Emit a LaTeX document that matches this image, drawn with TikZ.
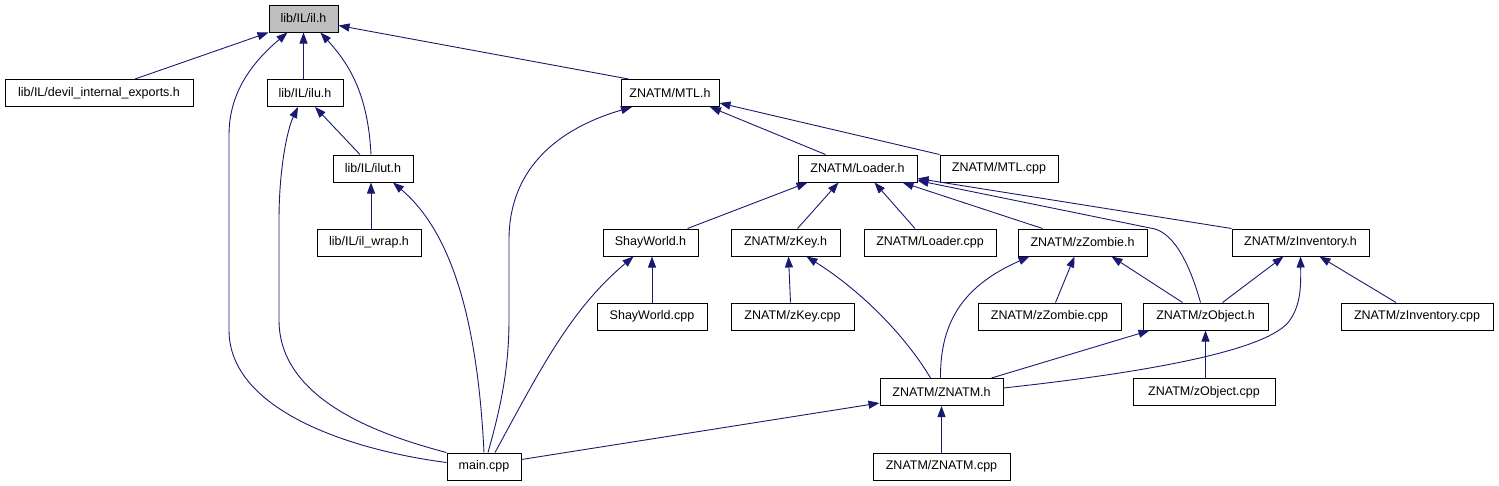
\documentclass[tikz,border=0pt]{standalone}
\usepackage{fontspec}
\setmainfont{Liberation Sans}
\usetikzlibrary{arrows.meta, positioning, calc}
\definecolor{edge}{RGB}{25, 25, 112}
\definecolor{focus}{RGB}{191, 191, 191}

\begin{document}
\begin{tikzpicture}[x=1pt, y=-1pt,
    file/.style={draw=black, line width=1pt, fill=white, inner sep=0pt, minimum height=27pt, font=\fontsize{12.5}{14}\selectfont},
    dep/.style={->, draw=edge, line width=0.9pt},
    >={Triangle[length=11pt, width=8pt]}]
                    \useasboundingbox (0,0) rectangle (1499,485);
                    % rows of the include graph
                    \node[file, fill=focus, minimum width=69pt] (il) at (303.5,18.5) {lib/IL/il.h};
                    \node[file, minimum width=188pt] (devil) at (99,93) {lib/IL/devil\_internal\_exports.h};
                    \node[file, minimum width=76pt] (ilu) at (305,93) {lib/IL/ilu.h};
                    \node[file, minimum width=98pt] (mtl) at (670,93) {ZNATM/MTL.h};
                    \node[file, minimum width=80pt] (ilut) at (373,168.5) {lib/IL/ilut.h};
                    \node[file, minimum width=119pt] (loader) at (857.5,168.5) {ZNATM/Loader.h};
                    \node[file, minimum width=118pt] (mtlcpp) at (999,168.5) {ZNATM/MTL.cpp};
                    \node[file, minimum width=104pt] (ilwrap) at (369,242.5) {lib/IL/il\_wrap.h};
                    \node[file, minimum width=95pt] (shay) at (650.5,242.5) {ShayWorld.h};
                    \node[file, minimum width=109pt] (zkey) at (785.5,242.5) {ZNATM/zKey.h};
                    \node[file, minimum width=132pt] (loadercpp) at (930,242.5) {ZNATM/Loader.cpp};
                    \node[file, minimum width=129pt] (zombie) at (1082.5,242.5) {ZNATM/zZombie.h};
                    \node[file, minimum width=137pt] (inv) at (1300.5,242.5) {ZNATM/zInventory.h};
                    \node[file, minimum width=110pt] (shaycpp) at (652,316.5) {ShayWorld.cpp};
                    \node[file, minimum width=123pt] (zkeycpp) at (792.5,316.5) {ZNATM/zKey.cpp};
                    \node[file, minimum width=143pt] (zombiecpp) at (1049.5,316.5) {ZNATM/zZombie.cpp};
                    \node[file, minimum width=125pt] (zobj) at (1205.5,316.5) {ZNATM/zObject.h};
                    \node[file, minimum width=152pt] (invcpp) at (1417,316.5) {ZNATM/zInventory.cpp};
                    \node[file, minimum width=123pt] (znatm) at (941.5,392) {ZNATM/ZNATM.h};
                    \node[file, minimum width=142pt] (zobjcpp) at (1204,392) {ZNATM/zObject.cpp};
                    \node[file, minimum width=74pt] (main) at (484,466.5) {main.cpp};
                    \node[file, minimum width=137pt] (znatmcpp) at (941.5,466.5) {ZNATM/ZNATM.cpp};
                    % lib/IL
                    \draw[dep] ([xshift=36pt]devil.north) -- (il.south west);
                    \draw[dep] (il.south |- ilu.north) -- (il.south);
                    \draw[dep] ([xshift=-2pt]ilut.north) .. controls (368,95) and (350,65) .. ([xshift=17pt]il.south);
                    \draw[dep] ([xshift=8pt]mtl.north west) -- ([yshift=-7pt]il.east);
                    \draw[dep] ([xshift=-13pt]ilut.north) -- ([xshift=10pt]ilu.south);
                    \draw[dep] ([xshift=2pt]ilwrap.north) -- ([xshift=-2pt]ilut.south);
                    % main.cpp
                    \draw[dep] ([yshift=4pt]main.west) .. controls (350,450) and (229,410) .. (229,330) -- (229,135) .. controls (229,90) and (255,60) .. ([xshift=-16pt]il.south);
                    \draw[dep] (main.north west) .. controls (380,435) and (279,400) .. (279,320) -- (279,220) .. controls (279,170) and (287,130) .. ([xshift=-7pt]ilu.south);
                    \draw[dep] (main.north) .. controls (478,330) and (455,235) .. ([xshift=20pt]ilut.south);
                    \draw[dep] ([xshift=4pt]main.north) .. controls (500,410) and (509,370) .. (509,320) -- (509,240) .. controls (509,160) and (570,125) .. ([xshift=-38pt]mtl.south);
                    \draw[dep] ([xshift=11pt]main.north) .. controls (540,370) and (570,310) .. ([xshift=-17pt]shay.south);
                    \draw[dep] ([yshift=7pt]main.east) -- ([yshift=-11pt]znatm.west);
                    % ZNATM
                    \draw[dep] ([xshift=-32pt]loader.north) -- ([xshift=40pt]mtl.south);
                    \draw[dep] (mtlcpp.north west) -- ([yshift=4pt]mtl.south east);
                    \draw[dep] ([xshift=37pt]shay.north) -- ([xshift=-50pt]loader.south);
                    \draw[dep] ([xshift=12pt]zkey.north) -- ([xshift=-19pt]loader.south);
                    \draw[dep] ([xshift=-15pt]loadercpp.north) -- ([xshift=17pt]loader.south);
                    \draw[dep] ([xshift=-40pt]zombie.north) -- ([xshift=45pt]loader.south);
                    \draw[dep] ([xshift=-5pt]zobj.north) .. controls (1190,265) and (1175,235) .. (1155,229) -- ([yshift=2pt]loader.south east);
                    \draw[dep] (inv.north west) -- ([yshift=4pt]loader.south east);
                    \draw[dep] (shaycpp.north) -- (shaycpp.north |- shay.south);
                    \draw[dep] ([xshift=-2pt]zkeycpp.north) -- ([xshift=3pt]zkey.south);
                    \draw[dep] ([xshift=-11pt]znatm.north) .. controls (905,335) and (860,290) .. ([xshift=21pt]zkey.south);
                    \draw[dep] ([xshift=6pt]zombiecpp.north) -- ([xshift=-8pt]zombie.south);
                    \draw[dep] ([xshift=-1pt]znatm.north) .. controls (940,320) and (965,285) .. ([xshift=-53pt]zombie.south);
                    \draw[dep] ([xshift=-23pt]zobj.north) -- ([xshift=29pt]zombie.south);
                    \draw[dep] ([xshift=17pt]zobj.north) -- ([xshift=-17pt]inv.south);
                    \draw[dep] ([yshift=4pt]znatm.east) .. controls (1150,372) and (1270,350) .. (1290,320) .. controls (1300,305) and (1301,290) .. (inv.south);
                    \draw[dep] ([xshift=-21pt]invcpp.north) -- ([xshift=19pt]inv.south);
                    \draw[dep] ([xshift=50pt]znatm.north) -- ([xshift=7pt]zobj.south west);
                    \draw[dep] (zobj.south |- zobjcpp.north) -- (zobj.south);
                    \draw[dep] (znatmcpp.north) -- (znatm.south);
                \end{tikzpicture}
\end{document}
